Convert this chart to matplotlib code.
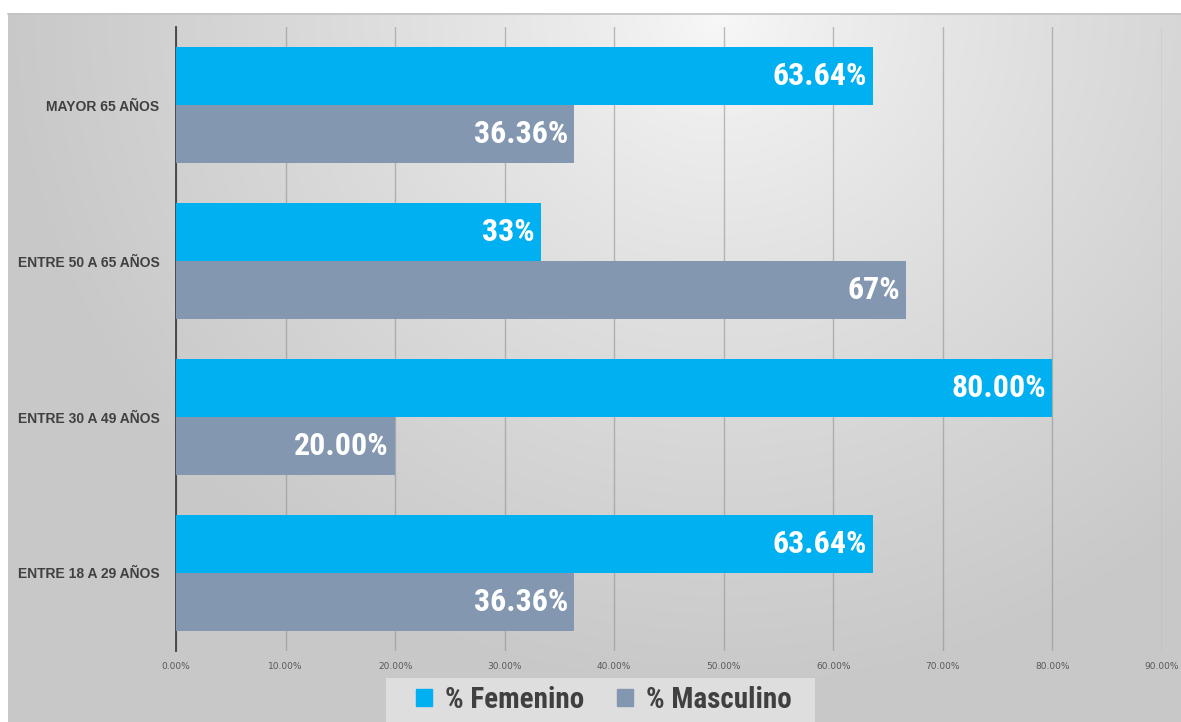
import numpy as np
import matplotlib.pyplot as plt
from matplotlib import font_manager
from matplotlib.patches import Rectangle, Patch

categorias = ['ENTRE 18 A 29 AÑOS', 'ENTRE 30 A 49 AÑOS', 'ENTRE 50 A 65 AÑOS', 'MAYOR 65 AÑOS']
femenino = [63.64, 80.00, 33.33, 63.64]
masculino = [36.36, 20.00, 66.67, 36.36]
etiq_fem = ['63.64%', '80.00%', '33%', '63.64%']
etiq_mas = ['36.36%', '20.00%', '67%', '36.36%']
ticks = [0, 10, 20, 30, 40, 50, 60, 70, 80, 90]

# buscar una fuente estrecha
cond = None
for f in font_manager.fontManager.ttflist:
    if f.name in ('Roboto Condensed', 'Liberation Sans Narrow', 'Open Sans Condensed'):
        cond = (f.name, 'normal')
        break
if cond is None:
    cond = ('DejaVu Sans', 'normal')
fam, stretch = cond

W, H = 1181, 722
fig = plt.figure(figsize=(W / 100, H / 100), dpi=100)

# fondo degradado
bg = fig.add_axes([8 / W, 0, 1 - 8 / W, 1 - 13 / H])
px, py = np.meshgrid(np.linspace(8, 1181, 400), np.linspace(13, 722, 250))
d = np.sqrt((px - 720) ** 2 + ((py - 13) * 1.05) ** 2)
g = 0.975 - 0.19 * np.clip(d / 720, 0, 1) ** 0.8
bg.imshow(np.dstack([g, g, g]), aspect='auto', extent=[0, 1, 0, 1], origin='upper')
bg.axis('off')
fig.add_artist(plt.Line2D([8 / W, 1], [1 - 13.5 / H, 1 - 13.5 / H], color='#c4c4c4', lw=1.2))

ax = fig.add_axes([176 / W, 1 - 651 / H, (1162 - 176) / W, (651 - 27) / H])
ax.set_facecolor('none')
y = np.arange(len(categorias))
h = 0.372
ax.barh(y + h / 2, femenino, height=h, color='#00B0F0', zorder=3)
ax.barh(y - h / 2, masculino, height=h, color='#8497B0', zorder=3)

for i in range(len(categorias)):
    ax.text(femenino[i] - 0.6, y[i] + h / 2, etiq_fem[i], ha='right', va='center',
            color='white', fontsize=23, fontweight='bold', family=fam, zorder=4)
    ax.text(masculino[i] - 0.6, y[i] - h / 2, etiq_mas[i], ha='right', va='center',
            color='white', fontsize=23, fontweight='bold', family=fam, zorder=4)

ax.set_xlim(0, 90)
ax.set_ylim(-0.5, 3.5)
ax.set_xticks(ticks)
ax.set_xticklabels(['%.2f%%' % t for t in ticks], fontsize=6.5, color='#595959')
ax.set_yticks(y)
ax.set_yticklabels(categorias, fontsize=10, fontweight='bold', color='#404040',
                   family='Liberation Sans')
ax.tick_params(axis='both', length=0)
ax.tick_params(axis='y', pad=12)
ax.tick_params(axis='x', pad=8)
ax.grid(axis='x', color='#8c8c8c', alpha=0.55, lw=1, zorder=0)
for s in ['top', 'right', 'bottom']:
    ax.spines[s].set_visible(False)
ax.spines['left'].set_color('#404040')
ax.spines['left'].set_linewidth(1.3)

# leyenda
fig.add_artist(Rectangle((386 / W, 0), (815 - 386) / W, 44 / H, transform=fig.transFigure,
                         facecolor='#dedede', edgecolor='none'))
handles = [Patch(color='#00B0F0', label='% Femenino'), Patch(color='#8497B0', label='% Masculino')]
leg = fig.legend(handles=handles, loc='center', bbox_to_anchor=(604 / W, 22 / H), ncol=2,
                 frameon=False, handlelength=0.55, handleheight=0.55, columnspacing=1.1,
                 handletextpad=0.45,
                 prop={'family': fam, 'weight': 'bold', 'size': 21})
for t in leg.get_texts():
    t.set_color('#404040')

fig.savefig('out.png', dpi=100)
